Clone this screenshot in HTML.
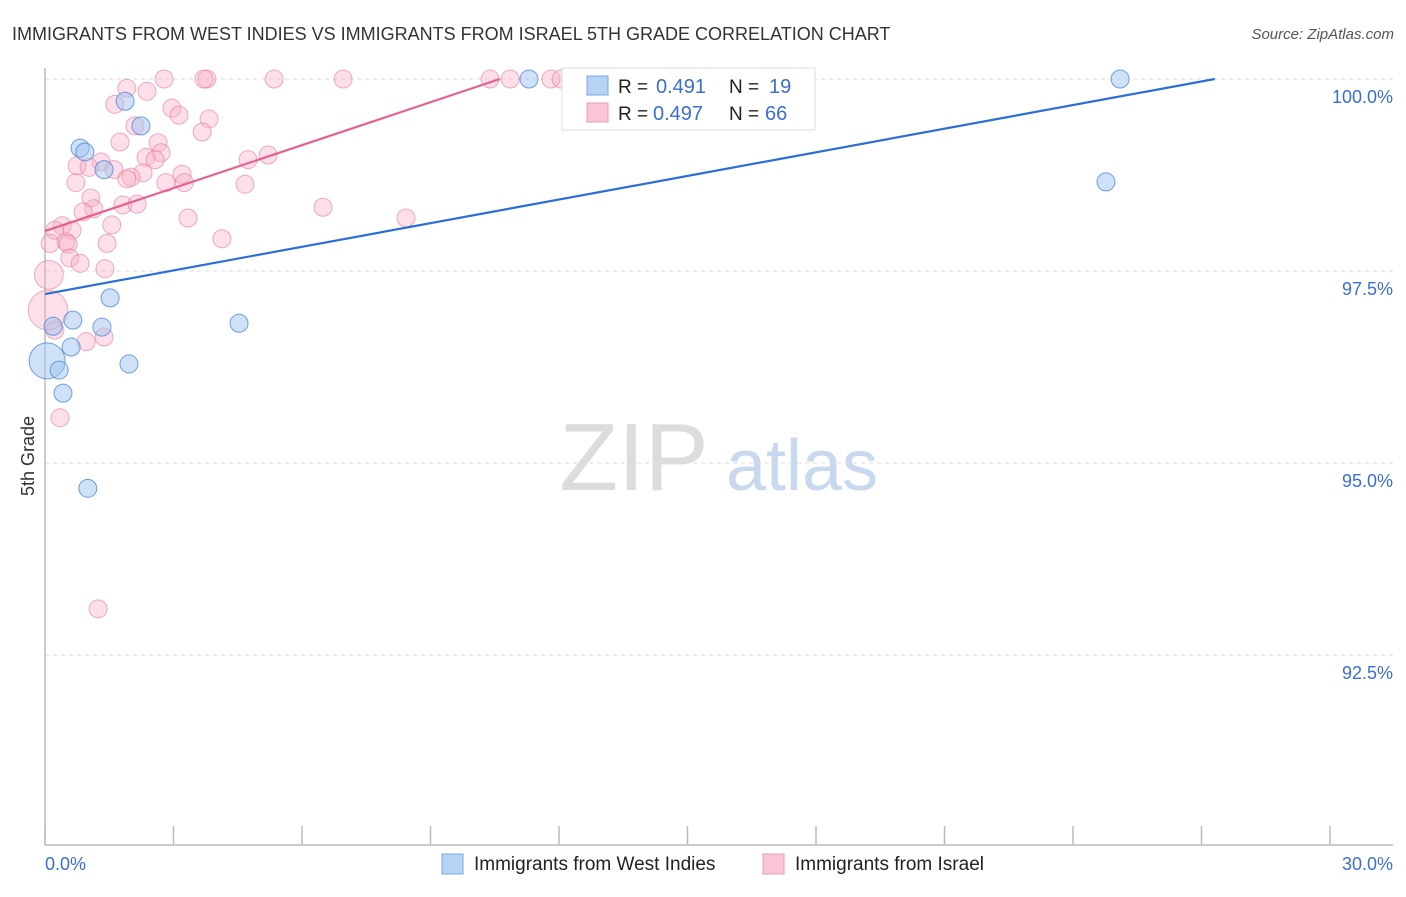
<!DOCTYPE html>
<html><head><meta charset="utf-8">
<style>
body{margin:0;background:#fff;font-family:"Liberation Sans",sans-serif;}
svg text{font-family:"Liberation Sans",sans-serif;}
</style></head>
<body>
<svg id="chart" width="1406" height="892" xmlns="http://www.w3.org/2000/svg">
<text x="12" y="40" font-size="18" fill="#333">IMMIGRANTS FROM WEST INDIES VS IMMIGRANTS FROM ISRAEL 5TH GRADE CORRELATION CHART</text>
<text x="1394" y="39" font-size="15" fill="#555" font-style="italic" text-anchor="end">Source: ZipAtlas.com</text>
<g>
<text x="634" y="490" font-size="96" fill="#dcdcdc" text-anchor="middle" font-family="Liberation Serif,serif">ZIP</text>
<text x="802" y="490" font-size="72" fill="#c8d8ee" text-anchor="middle">atlas</text>
</g>
<text transform="translate(34,456) rotate(-90)" font-size="18" fill="#333" text-anchor="middle">5th Grade</text>
<g id="grid"></g>
<g id="axes"></g>
<g id="pts"></g>
<g id="lines"></g>
<g>
<rect x="562" y="68" width="253" height="62" fill="#fff" stroke="#ddd"/>
<rect x="587" y="76" width="21" height="19" fill="#b6d2f5" stroke="#7aa7e3"/>
<text x="618" y="93" font-size="19" fill="#222">R = </text>
<text x="656" y="93" font-size="20" fill="#3a6fd0">0.491</text>
<text x="729" y="93" font-size="19" fill="#222">N = </text>
<text x="769" y="93" font-size="20" fill="#3a6fd0">19</text>
<rect x="587" y="103" width="21" height="19" fill="#fac6d5" stroke="#ee9ab3"/>
<text x="618" y="120" font-size="19" fill="#222">R = </text>
<text x="653" y="120" font-size="20" fill="#3a6fd0">0.497</text>
<text x="729" y="120" font-size="19" fill="#222">N = </text>
<text x="765" y="120" font-size="20" fill="#3a6fd0">66</text>
</g>
<g>
<rect x="442" y="854" width="21" height="20" fill="#b6d2f5" stroke="#7aa7e3"/>
<text x="474" y="870" font-size="19" fill="#222">Immigrants from West Indies</text>
<rect x="763" y="854" width="21" height="20" fill="#fac6d5" stroke="#ee9ab3"/>
<text x="795" y="870" font-size="19" fill="#222">Immigrants from Israel</text>
</g>
</svg>
<script>
const yTicks=[100,97.5,95,92.5];
const yTickLabels=["100.0%","97.5%","95.0%","92.5%"];
const xTicks=[0,3,6,9,12,15,18,21,24,27,30];
const blueX=[25.10,11.30,1.87,2.24,0.82,0.93,1.38,1.52,0.65,0.19,1.33,4.53,0.61,0.05,0.33,0.42,1.96,1.00,24.77];
const blueY=[100,100,99.71,99.39,99.10,99.05,98.82,97.15,96.86,96.78,96.77,96.82,96.51,96.33,96.21,95.91,96.29,94.67,98.66];
const blueW=[1,1,1,1,1,1,1,1,1,1,1,1,1,2,1,1,1,1,1];
const pinkX=[2.78,3.78,3.71,5.35,6.96,10.39,10.86,11.81,12.05,15.85,1.91,2.38,1.63,2.96,3.13,3.83,3.67,2.10,1.75,2.64,2.71,2.36,2.57,4.74,5.21,0.75,1.31,1.03,1.61,2.29,2.01,1.91,3.20,0.72,2.82,3.25,4.67,1.07,1.82,2.15,1.14,0.89,6.49,3.34,8.43,1.56,0.40,0.23,0.63,0.49,0.12,0.54,1.45,4.13,0.58,0.82,1.40,0.09,0.07,0.23,1.38,0.96,0.35,1.24];
const pinkY=[100,100,100,100,100,100,100,100,100,100,99.88,99.84,99.67,99.62,99.53,99.48,99.31,99.39,99.18,99.17,99.04,98.98,98.95,98.95,99.01,98.87,98.92,98.85,98.82,98.78,98.72,98.70,98.76,98.65,98.65,98.65,98.63,98.45,98.36,98.37,98.31,98.27,98.33,98.19,98.19,98.10,98.09,98.03,98.03,97.88,97.86,97.85,97.86,97.92,97.67,97.60,97.53,97.45,96.99,96.73,96.64,96.58,95.59,93.10];
const pinkW=[1,1,1,1,1,1,1,1,1,1,1,1,1,1,1,1,1,1,1,1,1,1,1,1,1,1,1,1,1,1,1,1,1,1,1,1,1,1,1,1,1,1,1,1,1,1,1,1,1,1,1,1,1,1,1,1,1,1.6,2.2,1,1,1,1,1];
const blueLine=[[0,97.20],[27.31,100]];
const pinkLine=[[0,98.02],[10.62,100]];

const NS="http://www.w3.org/2000/svg";
const X0=45,X1=1330,YT=79,YB=847;
const sx=v=>X0+(v/30)*(X1-X0);
const sy=v=>YT+(100-v)/10*(YB-YT);
function mk(tag,attrs,parent){const e=document.createElementNS(NS,tag);for(const k in attrs)e.setAttribute(k,attrs[k]);parent.appendChild(e);return e;}
const grid=document.getElementById('grid'),axes=document.getElementById('axes');
yTicks.forEach((t,i)=>{
  const l=mk('line',{x1:45,x2:1393,y1:sy(t),y2:sy(t),stroke:'#ddd','stroke-dasharray':'4,4'},grid);
  
  
  const tx=mk('text',{x:1393,y:sy(t)+24,'font-size':18,fill:'#3a6fd0','text-anchor':'end'},axes);
  tx.textContent=yTickLabels[i];
  
  
});
const ya=mk('line',{x1:45,x2:45,y1:68,y2:845,stroke:'#bbb','stroke-width':1.5},axes);


const xa=mk('line',{x1:45,x2:1393,y1:845,y2:845,stroke:'#bbb','stroke-width':1.5},axes);


xTicks.forEach(t=>{
  const l=mk('line',{x1:sx(t),x2:sx(t),y1:826,y2:845,stroke:'#bbb','stroke-width':1.5},axes);
  
  
});
const xl0=mk('text',{x:45,y:870,'font-size':18,fill:'#3a6fd0'},axes);xl0.textContent='0.0%';


const xl1=mk('text',{x:1393,y:870,'font-size':18,fill:'#3a6fd0','text-anchor':'end'},axes);xl1.textContent='30.0%';


const pts=document.getElementById('pts');
pinkX.forEach((x,i)=>{
  const c=mk('circle',{cx:sx(x),cy:sy(pinkY[i]),r:9*pinkW[i],fill:'rgba(248,175,198,0.4)',stroke:'rgba(230,120,155,0.6)','stroke-width':1},pts);
  
  
});
blueX.forEach((x,i)=>{
  const c=mk('circle',{cx:sx(x),cy:sy(blueY[i]),r:9*blueW[i],fill:'rgba(160,196,240,0.5)',stroke:'rgba(70,130,215,0.75)','stroke-width':1},pts);
  
  
});
const lines=document.getElementById('lines');
const bl=mk('line',{x1:sx(blueLine[0][0]),y1:sy(blueLine[0][1]),x2:sx(blueLine[1][0]),y2:sy(blueLine[1][1]),stroke:'#2b6fd6','stroke-width':2.2},lines);


const pl=mk('line',{x1:sx(pinkLine[0][0]),y1:sy(pinkLine[0][1]),x2:sx(pinkLine[1][0]),y2:sy(pinkLine[1][1]),stroke:'#e8608f','stroke-width':2.2},lines);


</script>
</body></html>
